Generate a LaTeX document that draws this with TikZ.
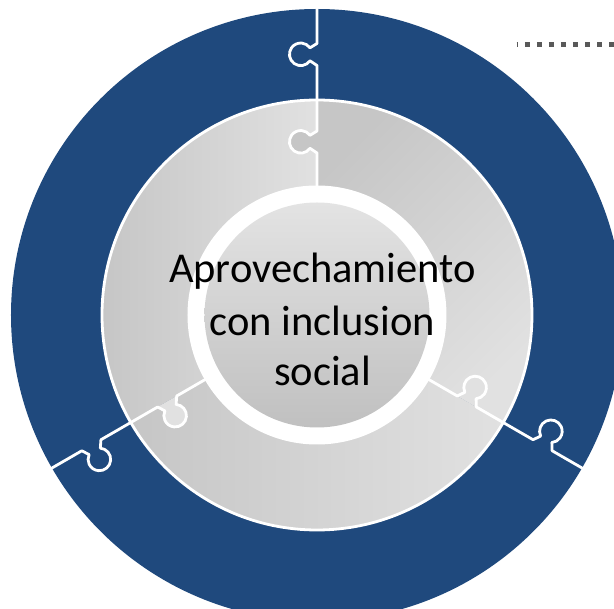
\documentclass[tikz,border=0pt]{standalone}
\usepackage{fontspec}
\setmainfont{Carlito}
\definecolor{pzblue}{HTML}{1F497D}
\definecolor{gdark}{HTML}{C6C6C6}
\definecolor{glight}{HTML}{E1E1E1}
\definecolor{cdark}{HTML}{C0C0C0}
\definecolor{clight}{HTML}{E3E3E3}
\definecolor{dotgray}{HTML}{595959}
\begin{document}
\begin{tikzpicture}[x=1pt,y=1pt,
  seam/.style={draw=white, line width=2.8pt, line join=round},
  txt/.style={font=\fontsize{42.5}{50}\selectfont, anchor=base, inner sep=0pt, text=black}]
\useasboundingbox (-317,-294) rectangle (297,315);
\clip (-317,-294) rectangle (297,315);
% outer blue ring
\fill[pzblue] (0,0) circle[radius=306];
% gray pieces
\shade[top color=gdark, bottom color=glight, shading angle=45]
  (0,0) -- (90:215) arc[start angle=90, end angle=-30, radius=215] -- cycle;
\shade[left color=gdark, right color=glight]
  (0,0) -- (210:215) arc[start angle=210, end angle=330, radius=215] -- cycle;
\shade[left color=gdark, right color=glight]
  (0,0) -- (90:215) arc[start angle=90, end angle=210, radius=215] -- cycle;
% seams with puzzle knobs
\foreach \a/\c in {0/gdark, -120/glight, 120/glight} {
  \begin{scope}[rotate=\a]
    \fill[\c] (0,162) -- (-7,166.7) arc[start angle=-35, end angle=-325, radius=11.3] -- (0,184) -- cycle;
    \draw[seam] (0,125) -- (0,162) -- (-7,166.7)
      arc[start angle=-35, end angle=-325, radius=11.3] -- (0,184)
      -- (0,249.5) -- (-7,254.2)
      arc[start angle=-35, end angle=-325, radius=11.3] -- (0,271.5)
      -- (0,330);
  \end{scope}
}
\draw[white, line width=2.8pt] (0,0) circle[radius=215];
% center
\fill[white] (0,0) circle[radius=129.5];
\shade[top color=clight, bottom color=cdark] (0,0) circle[radius=112.5];
\node[txt] (t1) at (5.5,32) {Aprovechamiento};
\node[txt] (t2) at (5.5,-20.5) {con inclusion};
\node[txt] (t3) at (5.5,-71) {social};
% dotted line
\coordinate (d1) at (199.7,270.7);
\coordinate (d2) at (297,270.7);
\draw[dotgray, line width=5pt, dash pattern=on 5pt off 7pt, dash phase=3.7pt] (d1) -- (d2);
\end{tikzpicture}
\end{document}
